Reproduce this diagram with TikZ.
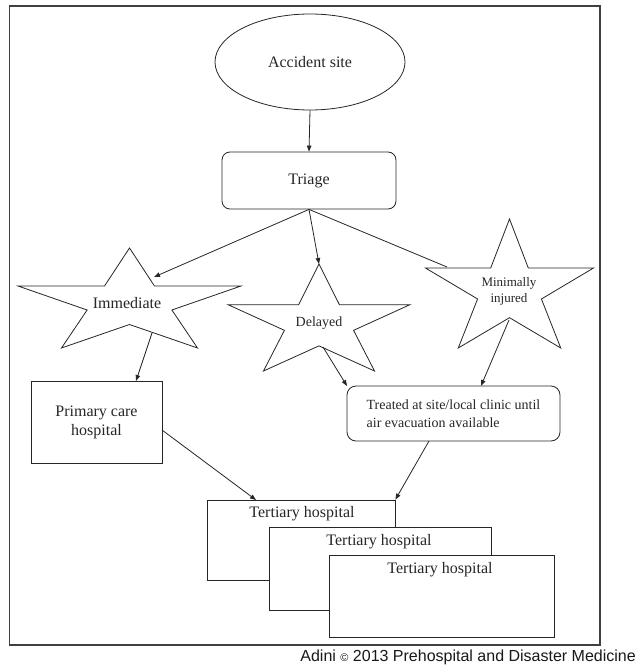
\documentclass[tikz,border=0pt]{standalone}
\usepackage{fontspec}
\setmainfont{Liberation Serif}
\newfontfamily\capfont{Liberation Sans}
\usetikzlibrary{shapes.geometric,arrows.meta,calc}

% star polygon: name, top x, top y, width, height
\newcommand\mystar[5]{%
  \begin{scope}[shift={(#2,#3)},xscale=#4,yscale=#5]
    \draw[starline] (0,0) coordinate (#1-top) -- (0.112,0.38) -- (0.5,0.38) coordinate (#1-r)
      -- (0.19,0.62) -- (0.305,1) coordinate (#1-br) -- (0,0.765) coordinate (#1-b)
      -- (-0.305,1) coordinate (#1-bl) -- (-0.19,0.62) -- (-0.5,0.38) coordinate (#1-l)
      -- (-0.112,0.38) -- cycle;
  \end{scope}}

\begin{document}
\begin{tikzpicture}[x=1pt,y=-1pt,
  ln/.style={draw=black!85, line width=0.8pt},
  arr/.style={ln, -{Triangle[length=6pt,width=4.5pt]}},
  starline/.style={ln, line join=miter},
  lbl/.style={inner sep=0pt, text=black!85},
  big/.style={font=\fontsize{16}{19}\selectfont},
  mid/.style={font=\fontsize{14}{18}\selectfont},
  tbox/.style={ln, fill=white, inner sep=0pt, rectangle},
  ]
\useasboundingbox (0,0) rectangle (636,666);
\fill[white] (0,0) rectangle (636,666);
\draw[draw=black!75, line width=1.5pt] (9.5,6) rectangle (600,645);

% top
\node[ellipse, ln, minimum width=190pt, minimum height=96pt, inner sep=0pt, big, text=black!85] (acc) at (310,62) {Accident site};
\node[rectangle, rounded corners=8pt, ln, minimum width=174pt, minimum height=57pt, inner sep=0pt, big, text=black!85] (tri) at (309,180.5) {Triage};
\draw[arr] (acc.south) -- (tri.north);

% stars
\mystar{imm}{129.5}{248}{223}{100}
\mystar{del}{319}{264}{182}{107}
\mystar{min}{509.5}{219}{168}{129}
\node[lbl, big] (imml) at (127,303) {Immediate};
\node[lbl, mid] (dell) at (319,323) {Delayed};
\node[lbl, align=center, font=\fontsize{13}{16}\selectfont] (minl) at (509,291) {Minimally\\injured};

% boxes
\node[rectangle, ln, minimum width=131pt, minimum height=82pt, inner sep=0pt, align=center, big, text=black!85] (prim) at (96.5,422) {Primary care\\hospital};
\node[rectangle, rounded corners=9pt, ln, minimum width=213pt, minimum height=55pt, inner sep=0pt, align=left, mid, text=black!85] (trt) at (453.5,413.5) {Treated at site/local clinic until\\air evacuation available};

\node[tbox, minimum width=188pt, minimum height=80pt] (t1) at (301,540) {};
\node[lbl, big] (t1l) at (302,514) {Tertiary hospital};
\node[tbox, minimum width=222pt, minimum height=83pt] (t2) at (380,568.5) {};
\node[lbl, big] (t2l) at (379,542) {Tertiary hospital};
\node[tbox, minimum width=225pt, minimum height=82pt] (t3) at (441.5,596) {};
\node[lbl, big] (t3l) at (440,570) {Tertiary hospital};

% connector ends
\coordinate (imm-in) at (154,277);
\coordinate (min-in) at (447,267);
\coordinate (imm-out) at (152,333);
\coordinate (prim-in) at (136,381);
\coordinate (prim-out) at (162,430);
\coordinate (t1-in) at (256,500);
\coordinate (del-out) at (323,347);
\coordinate (trt-in1) at (347,386);
\coordinate (min-out) at (509,320);
\coordinate (trt-in2) at (481,386);
\coordinate (trt-out) at (429,441);

\draw[arr] (tri.south) -- (imm-in);
\draw[arr] (tri.south) -- (del-top);
\draw[ln] (tri.south) -- (min-in);
\draw[arr] (imm-out) -- (prim-in);
\draw[arr] (prim-out) -- (t1-in);
\draw[arr] (del-out) -- (trt-in1);
\draw[arr] (min-out) -- (trt-in2);
\draw[arr] (trt-out) -- (t1.north east);

% caption
\node[anchor=east, inner sep=0pt, text=black!90, font=\capfont\fontsize{16}{19}\selectfont] (cap) at (636,657) {Adini {\fontsize{11}{11}\selectfont\textcopyright} 2013 Prehospital and Disaster Medicine};
\end{tikzpicture}
\end{document}
